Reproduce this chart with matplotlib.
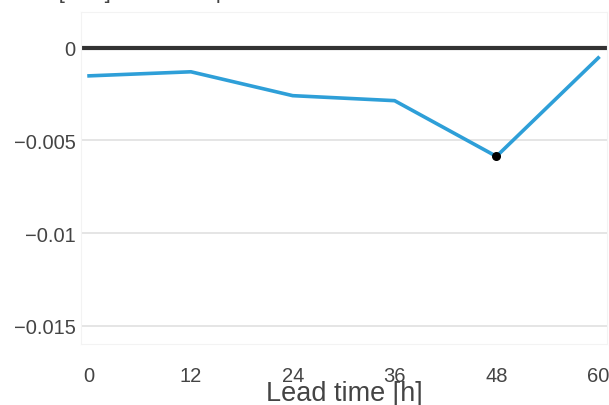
import matplotlib.pyplot as plt

# Data
lead_time = [0, 12, 24, 36, 48, 60]
bias = [-0.00151, -0.00129, -0.00258, -0.00285, -0.00586, -0.00054]
x_ticks = [0, 12, 24, 36, 48, 60]
y_ticks = [0, -0.005, -0.01, -0.015]
y_tick_labels = ['0', '\u22120.005', '\u22120.01', '\u22120.015']

plt.rcParams['font.family'] = ['Liberation Sans', 'DejaVu Sans']

fig = plt.figure(figsize=(6.09, 4.06), dpi=100)
ax = fig.add_axes([0.133, 0.150, 0.864, 0.818])

# grid and zero line
for y in y_ticks[1:]:
    ax.axhline(y, color='#e3e3e3', lw=1.3, zorder=1)
ax.axhline(0, color='#333333', lw=3, zorder=2)

ax.plot(lead_time, bias, color='#2e9fd8', lw=2.6, zorder=3)
i_min = bias.index(min(bias))
ax.scatter([lead_time[i_min]], [bias[i_min]], color='black', s=30, zorder=4)

ax.set_xlim(-0.95, 61.05)
ax.set_ylim(-0.016, 0.00194)
ax.set_xticks(x_ticks)
ax.set_yticks(y_ticks)
ax.set_yticklabels(y_tick_labels)
ax.tick_params(length=0, labelsize=14.5, colors='#444444')
ax.tick_params(axis='x', pad=16)
ax.tick_params(axis='y', pad=4)
for s in ax.spines.values():
    s.set_color('#f3f3f3')

ax.set_xlabel('Lead time [h]', fontsize=19.5, color='#444444', labelpad=-4)

# title clipped at top of figure
fig.text(0.015, 1.018, 'Bias [hPa] of the temperature', fontsize=16,
         color='#444444', va='center', ha='left')

fig.savefig('out.png', dpi=100)
